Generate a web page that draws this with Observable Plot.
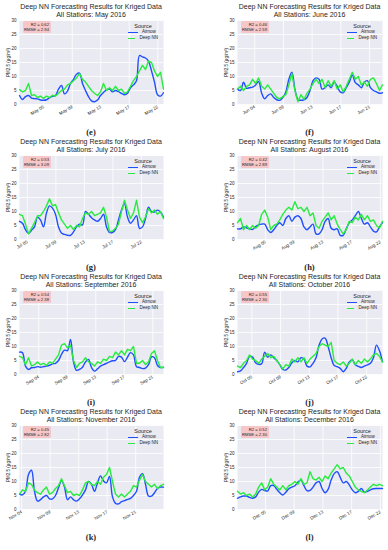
<!DOCTYPE html>
<html><head><meta charset="utf-8">
<script src="https://cdn.jsdelivr.net/npm/d3@7"></script>
<script src="https://cdn.jsdelivr.net/npm/@observablehq/plot@0.6"></script>
<style>
body{margin:0;background:#fff;}
#root{position:relative;width:388px;height:550px;overflow:hidden;font-family:"Liberation Sans",Arial,sans-serif;color:#262626;}
.panel{position:absolute;width:194px;height:135px;}
.panel svg{position:absolute;left:0;top:0;overflow:visible;background:none;}
.title{position:absolute;top:3px;font-size:7px;line-height:8px;text-align:center;white-space:nowrap;transform:translateX(-50%);}
.stats{position:absolute;top:21px;background:#f6c6c8;border-radius:1.5px;padding:1px 1.5px;font-size:4.2px;line-height:5px;text-align:right;white-space:nowrap;}
.legend{position:absolute;top:23px;width:30px;font-size:4.5px;white-space:nowrap;}
.legend .head{font-size:5.5px;line-height:6px;text-align:center;}
.legend .row{line-height:6.4px;height:6.4px;display:flex;align-items:center;}
.legend .sw{display:inline-block;width:10px;height:1.4px;margin-right:4px;}
.letter{position:absolute;font-family:"Liberation Serif","Times New Roman",serif;font-size:8.5px;line-height:9px;font-weight:bold;transform:translate(-50%,-50%);z-index:5;}
</style></head><body><div id="root"></div>
<script>
// ---- data ----
const monthNames = ["May","June","July","August","September","October","November","December"];
const panelLetters = ["(e)","(f)","(g)","(h)","(i)","(j)","(k)","(l)"];
const r2Values = ["0.62","0.46","0.53","0.42","0.54","0.55","0.45","0.52"];
const rmseValues = ["2.94","2.59","3.09","2.89","2.38","2.30","2.82","2.30"];
const seriesNames = ["Airnow","Deep NN"];
const yTicks = [0,5,10,15,20,25,30];
// day of month at left edge of each panel, and span (days)
const startDays = [1.6,1.6,3.9,1.1,1.3,3.0,3.7,1.1];
const spanDays = 20.2;
const tickDays = [[5,9,13,17,21],[4,8,12,16,20],[5,9,13,17,21],[5,9,13,17,21],[4,8,12,16,20],[5,9,13,17,21],[4,8,12,16,20],[5,9,13,17,21]];
const tickLabels = [
  ["May 05","May 09","May 13","May 17","May 22"],
  ["Jun 04","Jun 09","Jun 13","Jun 17","Jun 21"],
  ["Jul 05","Jul 09","Jul 13","Jul 17","Jul 22"],
  ["Aug 05","Aug 09","Aug 13","Aug 17","Aug 22"],
  ["Sep 04","Sep 09","Sep 13","Sep 17","Sep 21"],
  ["Oct 05","Oct 09","Oct 13","Oct 17","Oct 22"],
  ["Nov 04","Nov 09","Nov 13","Nov 17","Nov 21"],
  ["Dec 05","Dec 09","Dec 13","Dec 17","Dec 22"]
];

const mayAirnow = [3.2,1.8,2.8,3.2,2.3,2.1,2.0,1.6,1.5,1.7,2.4,2.9,3.2,5.5,6.8,3.8,4.8,7.5,9.0,10.8,11.2,7.5,5.0,2.8,1.3,1.0,1.6,3.2,4.3,5.2,5.5,4.5,5.0,4.6,4.0,3.5,4.0,6.0,7.0,8.5,17.5,17.0,16.6,15.5,12.0,8.0,3.5,3.0,4.2];
const mayDeepNN = [5.3,4.5,5.0,7.5,3.2,3.5,2.5,3.0,2.2,3.0,2.5,3.3,3.0,4.0,5.0,5.5,7.0,7.5,8.5,9.5,11.0,9.0,8.0,6.5,5.0,4.0,3.2,4.5,7.5,5.0,6.0,5.0,6.5,5.0,5.5,4.0,4.5,6.5,8.5,10.0,12.0,14.0,12.5,15.5,15.0,12.0,10.0,11.5,5.5];
const junAirnow = [5.5,5.0,8.0,5.8,6.0,6.2,7.0,8.2,4.0,2.0,3.2,3.8,2.5,1.7,1.5,2.5,4.5,9.0,11.5,5.5,1.8,1.5,1.7,2.5,5.0,8.5,9.5,9.0,5.5,6.0,7.0,6.0,8.0,6.5,4.5,4.2,6.0,8.0,10.5,7.8,7.0,6.0,8.0,8.5,6.0,5.0,4.5,4.0,4.2];
const junDeepNN = [5.5,6.5,5.0,6.5,7.0,9.0,7.5,9.5,6.5,5.5,7.0,5.5,4.0,2.5,2.0,2.8,3.5,7.0,11.0,5.0,1.0,3.5,1.8,4.0,5.5,7.5,9.0,7.5,9.0,6.0,8.5,6.5,8.5,5.5,7.0,4.5,6.5,9.0,11.5,9.0,10.0,7.0,8.0,6.5,9.0,9.5,7.5,5.0,7.0];
const julAirnow = [6.5,5.8,3.5,2.2,3.3,4.5,8.0,7.0,4.5,9.5,12.0,11.2,9.0,4.5,2.3,1.8,1.5,1.5,2.7,4.5,5.5,5.2,10.0,9.0,7.8,7.0,6.5,7.5,9.0,4.5,2.5,2.5,3.5,7.0,10.5,12.8,8.0,5.8,7.0,8.5,4.0,4.5,7.5,11.5,10.0,9.8,10.5,9.8,8.0];
const julDeepNN = [9.0,8.5,5.5,2.0,4.0,6.0,8.5,8.5,10.0,12.0,14.5,12.0,12.5,9.5,7.0,5.5,4.0,5.0,3.5,5.0,4.5,7.5,9.5,9.0,10.0,8.5,9.0,9.5,11.5,8.0,2.8,3.0,4.0,5.5,10.0,14.0,10.5,7.5,9.5,14.0,8.0,6.0,8.0,11.0,9.5,10.5,9.0,10.0,7.5];
const augAirnow = [3.8,3.8,4.5,4.2,3.8,3.6,4.6,5.2,5.5,5.5,3.5,2.5,3.5,5.0,6.0,5.0,7.5,8.5,6.5,8.0,8.5,7.5,4.5,3.5,4.5,5.5,2.0,2.0,3.5,6.5,7.5,4.0,3.5,3.8,1.5,1.5,3.8,6.0,7.0,8.5,10.0,7.5,5.5,6.0,4.5,3.0,2.7,4.5,6.0];
const augDeepNN = [6.0,7.5,3.5,5.0,3.5,5.0,4.0,5.0,9.0,10.5,8.0,3.5,5.0,5.5,7.0,9.0,10.5,11.5,10.5,13.5,11.0,11.5,10.0,11.5,8.5,9.5,5.0,4.0,6.5,8.0,9.5,7.0,8.5,5.5,3.5,2.0,3.5,6.5,6.0,8.0,7.0,9.0,7.0,8.5,6.5,7.0,5.0,4.0,6.5];
const sepAirnow = [8.0,7.8,3.0,1.8,2.4,2.5,2.8,2.6,2.8,3.0,3.3,3.8,4.0,5.0,7.2,8.7,8.5,12.5,4.5,1.5,1.8,2.6,4.5,5.4,2.5,1.2,2.0,3.0,3.5,4.0,4.5,4.9,5.0,6.5,6.2,4.6,6.2,7.8,7.0,2.8,2.5,2.1,2.3,3.5,6.3,6.0,3.2,2.5,2.6];
const sepDeepNN = [6.5,6.0,3.5,6.0,3.0,3.5,4.5,3.5,4.0,3.2,4.5,4.0,5.5,7.0,10.5,11.0,9.5,10.5,5.0,2.5,4.0,4.5,6.0,4.5,4.0,3.0,4.5,4.0,5.5,5.0,6.5,6.0,8.0,7.0,8.5,7.0,9.0,8.5,10.0,4.0,4.0,5.0,3.5,4.5,7.5,8.5,5.0,2.5,2.5];
const octAirnow = [1.0,1.3,2.5,4.0,6.5,6.2,4.2,3.6,3.8,8.0,6.2,7.0,6.0,5.0,3.5,1.8,1.6,2.5,4.2,5.0,4.5,6.0,5.5,3.0,2.7,4.0,6.0,10.5,12.7,13.0,10.0,6.0,3.2,2.8,2.2,1.0,2.2,4.5,5.2,3.5,2.9,2.5,3.0,3.4,4.0,6.0,10.5,8.5,4.5];
const octDeepNN = [3.0,2.5,4.0,5.0,7.0,5.5,5.0,4.0,5.5,6.5,7.5,6.0,6.5,5.0,3.5,2.0,3.5,3.0,5.5,4.5,6.0,4.5,6.0,4.0,5.5,6.5,7.5,10.0,11.0,10.5,10.0,11.5,5.0,4.0,3.5,4.5,3.0,4.0,5.5,3.5,5.0,4.0,5.5,4.5,5.5,7.0,7.5,6.5,4.5];
const novAirnow = [5.5,5.2,6.5,12.5,14.0,6.5,3.0,3.5,4.5,5.0,3.8,3.8,5.0,7.8,10.3,8.0,3.5,4.5,3.5,3.0,3.8,5.2,7.0,10.0,9.0,6.5,9.5,12.0,10.2,9.5,11.8,4.5,2.2,2.0,2.8,3.2,3.6,4.0,5.0,6.5,11.5,12.8,9.0,4.8,4.8,6.0,7.5,8.0,8.0];
const novDeepNN = [5.5,7.0,6.5,9.5,9.0,7.0,6.0,5.5,7.0,8.0,5.5,6.0,7.5,8.5,11.0,8.5,6.0,6.5,5.0,5.5,5.0,7.0,9.5,10.0,9.0,8.5,10.0,9.0,11.5,12.5,15.0,10.0,5.5,4.5,5.5,4.5,5.5,6.5,8.5,8.0,10.5,12.5,10.0,9.0,8.0,9.0,7.5,8.5,9.0];
const decAirnow = [4.0,4.5,4.8,4.8,4.3,4.0,4.5,6.2,7.2,6.8,6.6,8.5,8.5,7.2,6.0,5.2,6.2,7.4,8.0,8.5,9.8,10.5,8.5,6.7,6.8,8.0,9.5,10.0,7.5,6.0,7.2,10.5,12.8,13.5,11.5,9.5,10.0,8.8,7.0,6.0,6.5,7.5,6.2,6.5,7.0,7.4,7.5,7.5,7.5];
const decDeepNN = [6.5,5.5,6.0,5.0,5.5,4.5,5.5,8.0,9.5,7.0,8.0,11.0,9.0,8.0,7.0,8.5,7.0,8.5,9.0,10.0,9.0,11.0,9.0,9.5,13.5,11.0,10.5,11.5,10.0,12.0,11.0,13.0,14.5,16.0,14.5,15.0,13.0,12.0,10.0,8.0,7.0,6.5,6.0,7.0,8.0,9.0,8.5,9.0,8.5];

const airnowSeries = [mayAirnow,junAirnow,julAirnow,augAirnow,sepAirnow,octAirnow,novAirnow,decAirnow];
const deepSeries = [mayDeepNN,junDeepNN,julDeepNN,augDeepNN,sepDeepNN,octDeepNN,novDeepNN,decDeepNN];

// ---- style ----
const BLUE = "#1f4fff", GREEN = "#27ec3e", BG = "#eaeaf2";
const root = document.getElementById("root");

function toPoints(values, start) {
  const step = spanDays / (values.length - 1);
  return values.map((v, i) => ({day: start + i * step, pm: v}));
}

monthNames.forEach((m, k) => {
  const col = k % 2, row = Math.floor(k / 2);
  const ml = col === 0 ? 19 : 43, mr = col === 0 ? 31 : 6, mt = 20, mb = 31;
  const W = 194, H = 135;
  const panel = document.createElement("div");
  panel.className = "panel";
  panel.style.left = (col * 194) + "px";
  panel.style.top = (row * 135) + "px";
  const start = startDays[k];
  const labMap = new Map(tickDays[k].map((d, i) => [d, tickLabels[k][i]]));
  const svg = Plot.plot({
    width: W, height: H,
    marginLeft: ml, marginRight: mr, marginTop: mt, marginBottom: mb,
    style: {fontFamily: "'Liberation Sans', Arial, sans-serif", fontSize: "4.5px", background: "none", color: "#262626"},
    x: {domain: [start, start + spanDays]},
    y: {domain: [0, 30]},
    marks: [
      Plot.frame({fill: BG, stroke: "none"}),
      Plot.gridX(tickDays[k], {stroke: "white", strokeOpacity: 1, strokeWidth: 0.8}),
      Plot.gridY(yTicks, {stroke: "white", strokeOpacity: 1, strokeWidth: 0.8}),
      Plot.axisX(tickDays[k], {tickFormat: d => labMap.get(d), tickRotate: -30, tickSize: 0, tickPadding: 2, label: null, fontSize: 4.5}),
      Plot.axisY(yTicks, {tickSize: 0, tickPadding: 3, fontSize: 4.5, label: "PM2.5 (μg/m³)", labelAnchor: "center", labelArrow: "none", labelOffset: 13}),
      Plot.line(toPoints(airnowSeries[k], start), {x: "day", y: "pm", stroke: BLUE, strokeWidth: 1.4, curve: "catmull-rom"}),
      Plot.line(toPoints(deepSeries[k], start), {x: "day", y: "pm", stroke: GREEN, strokeWidth: 1.4})
    ]
  });
  panel.appendChild(svg);
  const plotL = ml, plotR = W - mr, plotC = (plotL + plotR) / 2;
  const title = document.createElement("div");
  title.className = "title";
  title.style.left = plotC + "px";
  title.innerHTML = "Deep NN Forecasting Results for Kriged Data<br>All Stations: " + m + " 2016";
  panel.appendChild(title);
  const stats = document.createElement("div");
  stats.className = "stats";
  stats.style.left = (plotL + 3.5) + "px";
  stats.innerHTML = "R2 = " + r2Values[k] + "<br>RMSE = " + rmseValues[k];
  panel.appendChild(stats);
  const leg = document.createElement("div");
  leg.className = "legend";
  leg.style.left = (plotR - 35) + "px";
  leg.innerHTML = '<div class="head">Source</div>' +
    seriesNames.map((s, i) => '<div class="row"><span class="sw" style="background:' + (i ? GREEN : BLUE) + '"></span>' + s + '</div>').join("");
  panel.appendChild(leg);
  root.appendChild(panel);
  const letter = document.createElement("div");
  letter.className = "letter";
  letter.style.left = (col * 194 + plotC) + "px";
  letter.style.top = (row * 135 + 132) + "px";
  letter.textContent = panelLetters[k];
  root.appendChild(letter);
});
</script></body></html>
